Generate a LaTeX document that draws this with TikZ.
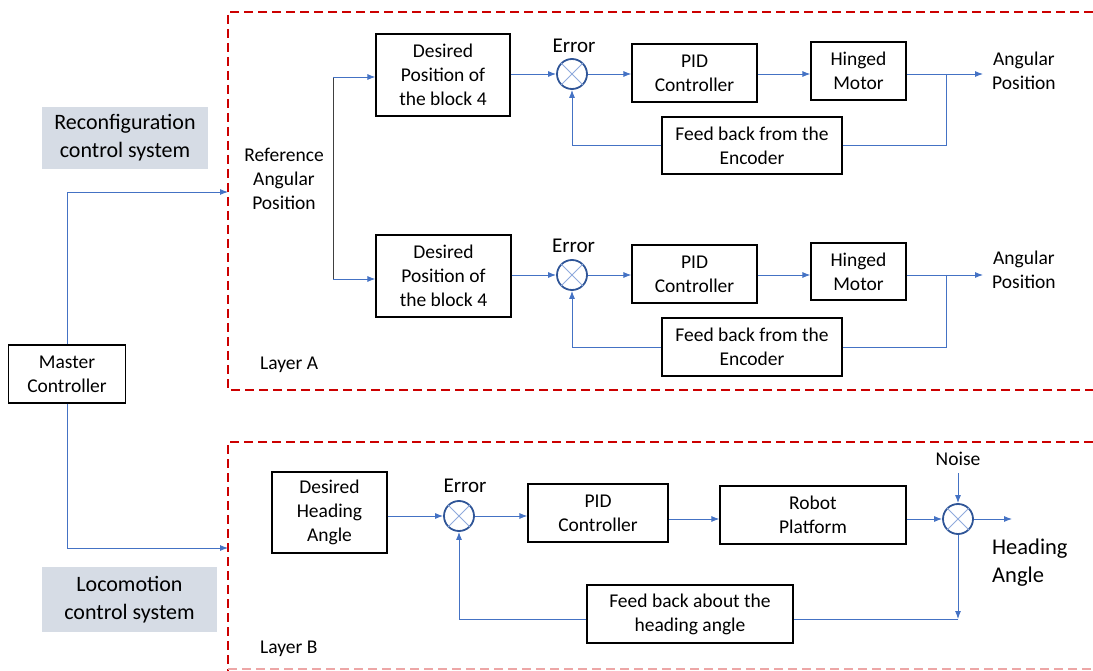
\documentclass[tikz,border=0pt]{standalone}
\usepackage{fontspec}
\setmainfont{Carlito}
\usetikzlibrary{arrows.meta}
\definecolor{flow}{HTML}{4472C4}
\definecolor{ring}{HTML}{2F5597}
\definecolor{cross}{HTML}{8FAADC}
\definecolor{layer}{HTML}{CC0000}
\definecolor{tag}{HTML}{D6DCE5}
\tikzset{
  blk/.style={draw=black, line width=1.2pt, fill=white, inner sep=0pt, align=center,
    font=\fontsize{19.5}{24}\selectfont},
  tagbox/.style={fill=tag, inner sep=0pt, align=center, font=\fontsize{22}{28}\selectfont},
  sumj/.style={circle, draw=ring, line width=1.8pt, minimum size=30pt, inner sep=0pt},
  arr/.style={draw=flow, line width=0.9pt, -{Latex[length=8pt,width=6pt]}},
  wire/.style={draw=flow, line width=0.9pt},
  refwire/.style={draw=black!75, line width=0.9pt},
  layerline/.style={draw=layer, line width=2.8pt, dash pattern=on 9pt off 5pt},
  lbl/.style={inner sep=0pt, align=center, font=\fontsize{19.5}{24}\selectfont},
  errlbl/.style={inner sep=0pt, font=\fontsize{21}{25}\selectfont},
}
\newcommand{\crossmark}[1]{%
  \draw[cross, line width=0.9pt] (#1.north east) -- (#1.south west);
  \draw[cross, line width=0.9pt] (#1.north west) -- (#1.south east);}
\begin{document}
\begin{tikzpicture}[x=1pt, y=-1pt]
\useasboundingbox (0,0) rectangle (1093,671);

% layer frames
\draw[layerline] (1093,12) -- (228,12) -- (228,390) -- (1093,390);
\draw[layerline] (1093,442) -- (228,442) -- (228,671);
\draw[layerline, draw=layer!35] (228,669) -- (1093,669);
\node[lbl, anchor=west] (layA) at (260,365) {Layer A};
\node[lbl, anchor=west] (layB) at (260,649) {Layer B};

% system tags
\node[tagbox, minimum width=166pt, minimum height=62pt] (tagR) at (125,138) {Reconfiguration\\control system};
\node[tagbox, minimum width=175pt, minimum height=65pt] (tagL) at (129.5,599.5) {Locomotion\\control system};

% master controller and its two outputs
\node[blk, minimum width=117pt, minimum height=58pt] (master) at (67,374) {Master\\Controller};
\coordinate (inA) at (228,192);
\coordinate (inB) at (228,548);
\draw[arr] (master.north) |- (inA);
\draw[arr] (master.south) |- (inB);

% ---------------- Layer A ----------------
\node[lbl] (refang) at (284,179) {Reference\\Angular\\Position};
\coordinate (vtop) at (333,77);
\coordinate (vbot) at (333,279);

% upper loop
\node[blk, minimum width=134pt, minimum height=82pt] (desA1) at (443,75) {Desired\\Position of\\the block 4};
\node[sumj] (sumA1) at (572,74) {};
\crossmark{sumA1}
\node[errlbl] (errA1) at (574,46) {Error};
\node[blk, minimum width=125pt, minimum height=58pt] (pidA1) at (694.5,73) {PID\\Controller};
\node[blk, minimum width=95pt, minimum height=58pt] (motA1) at (858.5,71) {Hinged\\Motor};
\node[blk, minimum width=180pt, minimum height=57pt] (fbA1) at (752,145.5) {Feed back from the\\Encoder};
\node[lbl, anchor=west] (outA1) at (992,71) {Angular\\Position};
\coordinate (tipA1) at (983,74);
\coordinate (brA1) at (946,74);

% lower loop
\node[blk, minimum width=135pt, minimum height=82pt] (desA2) at (443.5,276) {Desired\\Position of\\the block 4};
\node[sumj] (sumA2) at (572,275) {};
\crossmark{sumA2}
\node[errlbl] (errA2) at (573.5,246) {Error};
\node[blk, minimum width=125pt, minimum height=58pt] (pidA2) at (694.5,274) {PID\\Controller};
\node[blk, minimum width=95pt, minimum height=57pt] (motA2) at (858.5,271.5) {Hinged\\Motor};
\node[blk, minimum width=180pt, minimum height=58pt] (fbA2) at (752,347) {Feed back from the\\Encoder};
\node[lbl, anchor=west] (outA2) at (992,270) {Angular\\Position};
\coordinate (tipA2) at (983,275);
\coordinate (brA2) at (946,275);

% reference split
\draw[refwire] (vtop) -- (vbot);
\draw[arr] (vtop) -- (vtop -| desA1.west);
\draw[arr] (vbot) -- (vbot -| desA2.west);

% upper loop connectors
\draw[arr] (desA1.east |- sumA1) -- (sumA1.west);
\draw[arr] (sumA1.east) -- (sumA1.east -| pidA1.west);
\draw[arr] (pidA1.east |- tipA1) -- (tipA1 -| motA1.west);
\draw[arr] (motA1.east |- tipA1) -- (tipA1);
\draw[wire] (brA1) |- (fbA1.east);
\draw[arr] (fbA1.west) -| (sumA1.south);

% lower loop connectors
\draw[arr] (desA2.east |- sumA2) -- (sumA2.west);
\draw[arr] (sumA2.east) -- (sumA2.east -| pidA2.west);
\draw[arr] (pidA2.east |- tipA2) -- (tipA2 -| motA2.west);
\draw[arr] (motA2.east |- tipA2) -- (tipA2);
\draw[wire] (brA2) |- (fbA2.east);
\draw[arr] (fbA2.west) -| (sumA2.south);

% ---------------- Layer B ----------------
\node[blk, minimum width=115pt, minimum height=81pt] (desB) at (329.5,512.5) {Desired\\Heading\\Angle};
\node[sumj] (sumB1) at (459,516) {};
\crossmark{sumB1}
\node[errlbl] (errB) at (465,486) {Error};
\node[blk, minimum width=140pt, minimum height=58pt] (pidB) at (598,513) {PID\\Controller};
\node[blk, minimum width=186pt, minimum height=58pt] (robot) at (813,515) {Robot\\Platform};
\node[sumj] (sumB2) at (958,519) {};
\crossmark{sumB2}
\node[lbl] (noise) at (958,459) {Noise};
\coordinate (noiseIn) at (958,473);
\node[inner sep=0pt, align=left, anchor=west, font=\fontsize{22.5}{28}\selectfont] (head) at (992,563) {Heading\\Angle};
\coordinate (headTip) at (1012,519);
\node[blk, minimum width=206pt, minimum height=58pt] (fbB) at (690,614) {Feed back about the\\heading angle};
\coordinate (fbjoin) at (958,619);

\draw[arr] (desB.east |- sumB1) -- (sumB1.west);
\draw[arr] (sumB1.east) -- (sumB1.east -| pidB.west);
\draw[arr] (pidB.east |- sumB2) -- (sumB2 -| robot.west);
\draw[arr] (robot.east |- sumB2) -- (sumB2.west);
\draw[arr] (noiseIn) -- (sumB2.north);
\draw[arr] (sumB2.east) -- (headTip);
\draw[arr] (sumB2.south) -- (fbjoin);
\draw[wire] (fbjoin) -- (fbjoin -| fbB.east);
\draw[arr] (fbB.west |- fbjoin) -| (sumB1.south);
\end{tikzpicture}
\end{document}
